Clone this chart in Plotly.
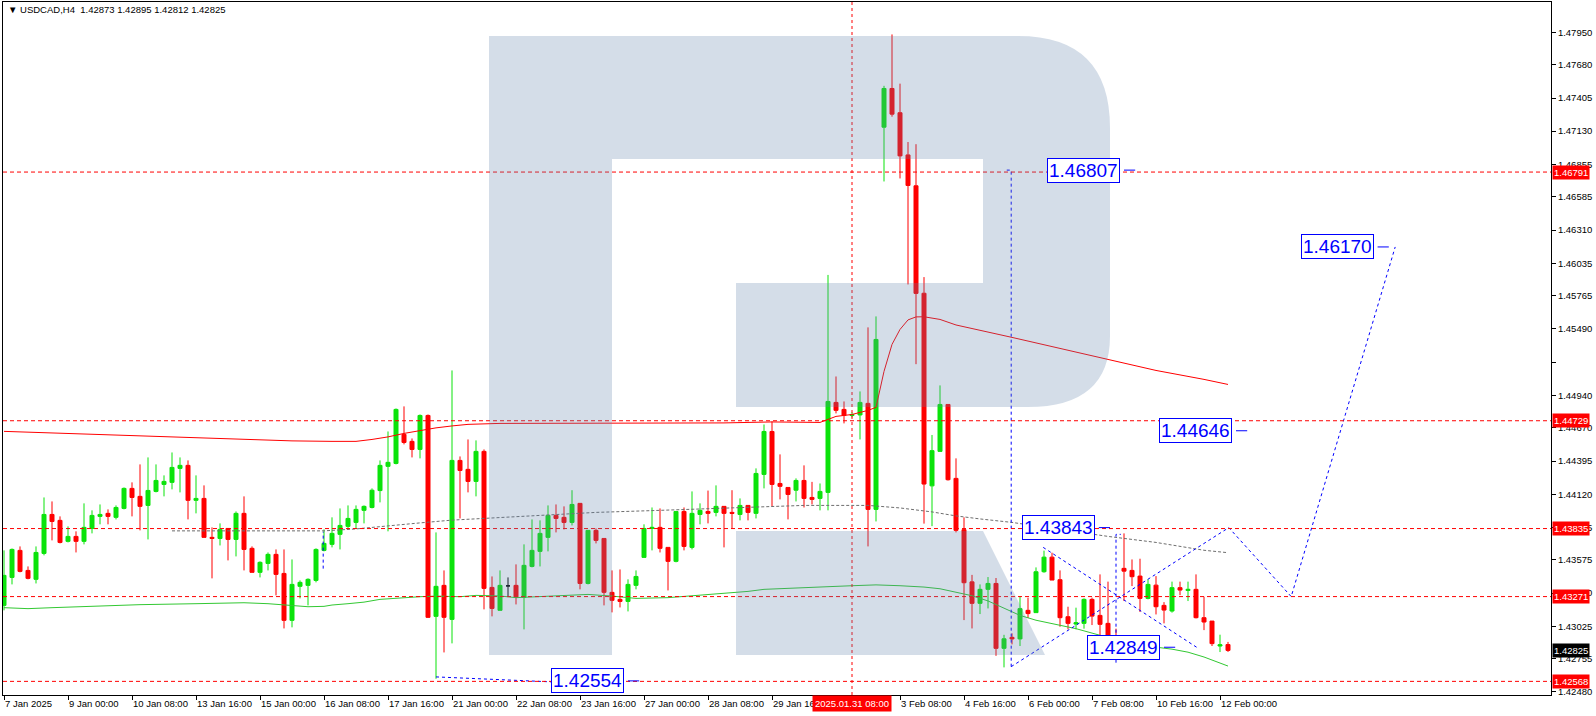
import plotly.graph_objects as go

# ---------------- data ----------------
title_text = "\u25BC USDCAD,H4\u00a0\u00a01.42873 1.42895 1.42812 1.42825"

opens = [
    1.43198, 1.43430, 1.43654, 1.43488, 1.43414, 1.43629, 1.43952, 1.43903, 1.43729, 1.43770,
    1.43729, 1.43836, 1.43936, 1.43961, 1.43928, 1.44002, 1.44168, 1.44102, 1.44027, 1.44143,
    1.44201, 1.44218, 1.44334, 1.44359, 1.44069, 1.44085, 1.43762, 1.43753, 1.43836, 1.43745,
    1.43961, 1.43671, 1.43472, 1.43546, 1.43621, 1.43463, 1.43074, 1.43356, 1.43364, 1.43405,
    1.43654, 1.43704, 1.43787, 1.43853, 1.43886, 1.43986, 1.44010, 1.44150, 1.44351, 1.44375,
    1.44616, 1.44558, 1.44491, 1.44773, 1.43107, 1.43364, 1.43082, 1.44400, 1.44326, 1.44226,
    1.44475, 1.43347, 1.43157, 1.43360, 1.43364, 1.43264, 1.43521, 1.43646, 1.43762, 1.43944,
    1.43928, 1.43886, 1.44044, 1.43380, 1.43820, 1.43753, 1.43306, 1.43248, 1.43231, 1.43364,
    1.43596, 1.43836, 1.43845, 1.43679, 1.43563, 1.43977, 1.43679, 1.43952, 1.43977, 1.43969,
    1.44019, 1.43969, 1.43952, 1.44027, 1.43961, 1.44284, 1.44640, 1.44209, 1.44176, 1.44153,
    1.44234, 1.44093, 1.44085, 1.44135, 1.44881, 1.44823, 1.44773, 1.44777, 1.44873, 1.43994,
    1.47163, 1.47484, 1.47283, 1.46933, 1.46677, 1.45786, 1.44189, 1.44475, 1.44864, 1.44251,
    1.43826, 1.43393, 1.43215, 1.43331, 1.43380, 1.42842, 1.42933, 1.42920, 1.43157, 1.43138,
    1.43477, 1.43598, 1.43411, 1.43104, 1.43043, 1.43049, 1.43248, 1.43115, 1.43049, 1.42933,
    1.43505, 1.43488, 1.43441, 1.43256, 1.43366, 1.43198, 1.43151, 1.43345, 1.43322, 1.43331,
    1.43096, 1.43068, 1.42861, 1.42873]

highs = [
    1.43654, 1.43670, 1.43687, 1.43521, 1.43687, 1.44093, 1.44060, 1.43936, 1.43853, 1.43812,
    1.44044, 1.43986, 1.44035, 1.43994, 1.44027, 1.44176, 1.44218, 1.44367, 1.44425, 1.44367,
    1.44276, 1.44466, 1.44425, 1.44400, 1.44276, 1.44193, 1.43845, 1.43878, 1.43836, 1.43977,
    1.44102, 1.43687, 1.43563, 1.43637, 1.43662, 1.43662, 1.43579, 1.43405, 1.43422, 1.43671,
    1.43828, 1.43928, 1.44002, 1.44027, 1.44027, 1.44027, 1.44168, 1.44400, 1.44640, 1.44831,
    1.44848, 1.44582, 1.44781, 1.44781, 1.43803, 1.43488, 1.45146, 1.44433, 1.44574, 1.44566,
    1.44491, 1.43438, 1.43488, 1.43430, 1.43538, 1.43704, 1.43911, 1.43903, 1.44027, 1.44035,
    1.44019, 1.44153, 1.44044, 1.43820, 1.43836, 1.43753, 1.43488, 1.43496, 1.43414, 1.43488,
    1.43870, 1.44010, 1.44002, 1.43679, 1.43977, 1.44010, 1.44143, 1.44044, 1.44150, 1.44193,
    1.44019, 1.44153, 1.44085, 1.44027, 1.44334, 1.44698, 1.44723, 1.44450, 1.44176, 1.44251,
    1.44359, 1.44222, 1.44209, 1.45938, 1.45096, 1.44889, 1.44798, 1.44972, 1.45503, 1.45594,
    1.47506, 1.47932, 1.47524, 1.47040, 1.47022, 1.45920, 1.44611, 1.45022, 1.44864, 1.44417,
    1.43928, 1.43451, 1.43372, 1.43433, 1.43425, 1.42954, 1.42966, 1.43275, 1.43262, 1.43513,
    1.43652, 1.43635, 1.43488, 1.43187, 1.43179, 1.43256, 1.43262, 1.43455, 1.43395, 1.43005,
    1.43795, 1.43579, 1.43585, 1.43414, 1.43441, 1.43225, 1.43395, 1.43395, 1.43395, 1.43455,
    1.43270, 1.43068, 1.42955, 1.42895]

lows = [
    1.43157, 1.43372, 1.43472, 1.43414, 1.43380, 1.43613, 1.43737, 1.43712, 1.43720, 1.43637,
    1.43704, 1.43795, 1.43870, 1.43870, 1.43911, 1.43994, 1.43936, 1.43820, 1.43745, 1.44135,
    1.44102, 1.44160, 1.44135, 1.43911, 1.43961, 1.43762, 1.43422, 1.43695, 1.43571, 1.43604,
    1.43488, 1.43472, 1.43430, 1.43488, 1.43281, 1.43007, 1.43016, 1.43256, 1.43198, 1.43389,
    1.43646, 1.43679, 1.43662, 1.43828, 1.43836, 1.43878, 1.44002, 1.44052, 1.43812, 1.44367,
    1.44533, 1.44425, 1.44417, 1.43095, 1.42590, 1.42808, 1.42883, 1.43919, 1.44135, 1.44102,
    1.43165, 1.43107, 1.43157, 1.43273, 1.43206, 1.42999, 1.43513, 1.43521, 1.43646, 1.43803,
    1.43828, 1.43861, 1.43331, 1.43372, 1.43712, 1.43198, 1.43140, 1.43181, 1.43148, 1.43331,
    1.43596, 1.43654, 1.43637, 1.43322, 1.43555, 1.43654, 1.43662, 1.43870, 1.43878, 1.43936,
    1.43679, 1.43836, 1.43903, 1.43903, 1.43919, 1.44168, 1.44019, 1.44077, 1.43911, 1.44060,
    1.44010, 1.44035, 1.43986, 1.43986, 1.44790, 1.44707, 1.44757, 1.44574, 1.43687, 1.43894,
    1.46713, 1.47250, 1.46738, 1.45859, 1.45198, 1.43876, 1.43855, 1.44475, 1.44233, 1.43803,
    1.43076, 1.43007, 1.43126, 1.43173, 1.42780, 1.42684, 1.42875, 1.42861, 1.43093, 1.43138,
    1.43469, 1.43408, 1.43021, 1.42999, 1.42999, 1.43005, 1.43035, 1.42861, 1.42861, 1.42750,
    1.43234, 1.43358, 1.43143, 1.43248, 1.43123, 1.43049, 1.43138, 1.43283, 1.43234, 1.43090,
    1.42993, 1.42861, 1.42811, 1.42812]

closes = [
    1.43447, 1.43662, 1.43480, 1.43422, 1.43637, 1.43952, 1.43894, 1.43720, 1.43770, 1.43729,
    1.43845, 1.43944, 1.43952, 1.43936, 1.44010, 1.44168, 1.44093, 1.44019, 1.44151, 1.44234,
    1.44226, 1.44342, 1.44359, 1.44069, 1.44085, 1.43762, 1.43753, 1.43828, 1.43745, 1.43961,
    1.43662, 1.43472, 1.43555, 1.43621, 1.43455, 1.43074, 1.43372, 1.43389, 1.43414, 1.43662,
    1.43712, 1.43795, 1.43861, 1.43919, 1.43994, 1.44019, 1.44153, 1.44359, 1.44384, 1.44823,
    1.44549, 1.44491, 1.44773, 1.43099, 1.43356, 1.43099, 1.44400, 1.44317, 1.44226, 1.44475,
    1.43339, 1.43173, 1.43364, 1.43360, 1.43264, 1.43530, 1.43654, 1.43795, 1.43944, 1.43919,
    1.43886, 1.44035, 1.43380, 1.43820, 1.43737, 1.43306, 1.43240, 1.43231, 1.43372, 1.43438,
    1.43836, 1.43845, 1.43671, 1.43563, 1.43977, 1.43687, 1.43961, 1.43986, 1.43961, 1.44019,
    1.43961, 1.43961, 1.44027, 1.43969, 1.44292, 1.44640, 1.44201, 1.44185, 1.44118, 1.44234,
    1.44085, 1.44077, 1.44143, 1.44889, 1.44815, 1.44773, 1.44781, 1.44881, 1.43994, 1.45403,
    1.47484, 1.47271, 1.46925, 1.46680, 1.45785, 1.44204, 1.44481, 1.44864, 1.44240, 1.43820,
    1.43386, 1.43215, 1.43331, 1.43380, 1.42842, 1.42921, 1.42920, 1.43171, 1.43130, 1.43477,
    1.43598, 1.43408, 1.43096, 1.43049, 1.43055, 1.43248, 1.43109, 1.43041, 1.42930, 1.42833,
    1.43482, 1.43436, 1.43256, 1.43372, 1.43187, 1.43159, 1.43345, 1.43325, 1.43331, 1.43096,
    1.43060, 1.42881, 1.42872, 1.42825]

black_doji = [63]

x_tick_bars = list(range(0, 153, 8))
x_tick_labels = ["7 Jan 2025", "9 Jan 00:00", "10 Jan 08:00", "13 Jan 16:00", "15 Jan 00:00",
                 "16 Jan 08:00", "17 Jan 16:00", "21 Jan 00:00", "22 Jan 08:00", "23 Jan 16:00",
                 "27 Jan 00:00", "28 Jan 08:00", "29 Jan 16:00", "", "3 Feb 08:00",
                 "4 Feb 16:00", "6 Feb 00:00", "7 Feb 08:00", "10 Feb 16:00", "12 Feb 00:00"]
crosshair_bar = 106
crosshair_label = "2025.01.31 08:00"

y_ticks = [1.47950, 1.47680, 1.47405, 1.47130, 1.46855, 1.46585, 1.46310, 1.46035, 1.45765,
           1.45490, 1.45215, 1.44940, 1.44670, 1.44395, 1.44120, 1.43845, 1.43575, 1.43300,
           1.43025, 1.42755, 1.42480]
y_tick_text = ["1.47950", "1.47680", "1.47405", "1.47130", "1.46855", "1.46585", "1.46310",
               "1.46035", "1.45765", "1.45490", "", "1.44940", "1.44670", "1.44395", "1.44120",
               "1.43845", "1.43575", "1.43300", "1.43025", "1.42755", "1.42480"]

level_lines = [1.46791, 1.44729, 1.43835, 1.43271, 1.42568]
current_price = 1.42825

ma_red_bars = [0, 8, 16, 24, 31, 36, 41, 44, 46, 48, 50, 52, 54, 56, 58, 62, 70, 80, 90, 96, 101,
               102, 104, 106, 108, 109, 110, 111, 112, 113, 114, 115, 117, 119, 126, 132, 138,
               144, 150, 153]
ma_red_vals = [1.44641, 1.44624, 1.44607, 1.44591, 1.44574, 1.44562, 1.44558, 1.44558, 1.44574,
               1.44595, 1.44624, 1.44649, 1.44670, 1.44686, 1.44699, 1.44707, 1.44707, 1.44711,
               1.44711, 1.44719, 1.44719, 1.44715, 1.44765, 1.44781, 1.44815, 1.44840, 1.45138,
               1.45362, 1.45486, 1.45565, 1.45590, 1.45591, 1.45569, 1.45523, 1.45420, 1.45329,
               1.45237, 1.45146, 1.45072, 1.45030]

ma_gray_bars = [21, 30, 40, 44, 47, 52, 56, 60, 63, 68, 74, 82, 90, 96, 100, 108, 112, 116, 119,
                122, 126, 132, 138, 144, 150, 153]
ma_gray_vals = [1.43816, 1.43816, 1.43816, 1.43832, 1.43853, 1.43882, 1.43905, 1.43919, 1.43932,
                1.43952, 1.43969, 1.43986, 1.44006, 1.44019, 1.44027, 1.44027, 1.44006, 1.43973,
                1.43940, 1.43915, 1.43886, 1.43828, 1.43770, 1.43720, 1.43655, 1.43635]

ma_green_bars = [0, 3, 6, 9, 13, 17, 24, 30, 33, 36, 38, 40, 41, 43, 45, 47, 49, 52, 54, 57, 59,
                 62, 64, 68, 73, 76, 79, 83, 88, 90, 93, 95, 98, 100, 103, 106, 109, 112, 115,
                 117, 119, 121, 123, 126, 127, 129, 132, 134, 137, 140, 143, 146, 148, 150, 153]
ma_green_vals = [1.43179, 1.43171, 1.43179, 1.43187, 1.43196, 1.43204, 1.43212, 1.43220, 1.43212,
                 1.43198, 1.43187, 1.43190, 1.43201, 1.43212, 1.43225, 1.43248, 1.43258, 1.43270,
                 1.43275, 1.43270, 1.43281, 1.43276, 1.43262, 1.43275, 1.43289, 1.43275, 1.43256,
                 1.43262, 1.43287, 1.43303, 1.43314, 1.43331, 1.43341, 1.43347, 1.43353, 1.43361,
                 1.43368, 1.43361, 1.43350, 1.43336, 1.43306, 1.43278, 1.43235, 1.43150, 1.43115,
                 1.43075, 1.43035, 1.43005, 1.42950, 1.42895, 1.42860, 1.42835, 1.42810, 1.42770,
                 1.42695]

# analyst drawings (bar index, price)
forecast_bars = [125.9, 153.1, 160.9, 173.9]
forecast_prices = [1.42690, 1.43843, 1.43271, 1.46170]
wedge_bars = [129.9, 149.1]
wedge_prices = [1.43679, 1.42850]
vline_a_bars = [125.9, 125.9, 125.3]
vline_a_prices = [1.42690, 1.46807, 1.46807]
vline_b_bars = [139.0, 139.0, 139.6]
vline_b_prices = [1.42723, 1.43787, 1.43787]
stub_bars = [39.9, 39.9]
stub_prices = [1.43503, 1.43808]
low_link_bars = [54, 68.4]
low_link_prices = [1.42605, 1.42564]

label_texts = ["1.46807", "1.46170", "1.44646", "1.43843", "1.42849", "1.42554"]
label_left_bars = [130.4, 162.1, 144.4, 127.25, 135.4, 68.4]
label_center_prices = [1.46807, 1.46170, 1.44646, 1.43843, 1.42851, 1.42572]

# ---------------- style / layout constants ----------------
W, H = 1596, 716
ML, MR, MT, MB = 3, 45, 2, 21
PW, PH = W - ML - MR, H - MT - MB
BULL = "#0be30b"
BEAR = "#ff0000"
BLUE = "#0000ff"
FONT = "Liberation Sans, Arial, sans-serif"
X_RANGE = [-0.125, -0.125 + PW / 8.0]
Y_RANGE = [1.42455, 1.48201]


def paper_x(px):
    return (px - ML) / PW


def paper_y(py):
    return 1 - (py - MT) / PH


def make_path(cmds):
    out = []
    for c in cmds:
        letter = c[0]
        nums = c[1:]
        parts = [letter]
        for k in range(0, len(nums), 2):
            parts.append("%.5f,%.5f" % (paper_x(nums[k]), paper_y(nums[k + 1])))
        out.append(" ".join(parts))
    return " ".join(out)


fig = go.Figure()

main_idx = [i for i in range(len(opens)) if i not in black_doji]
fig.add_trace(go.Candlestick(
    x=main_idx,
    open=[opens[i] for i in main_idx], high=[highs[i] for i in main_idx],
    low=[lows[i] for i in main_idx], close=[closes[i] for i in main_idx],
    increasing=dict(line=dict(color=BULL, width=1), fillcolor=BULL),
    decreasing=dict(line=dict(color=BEAR, width=1), fillcolor=BEAR),
    whiskerwidth=0, hoverinfo="skip", showlegend=False))
fig.add_trace(go.Candlestick(
    x=black_doji,
    open=[opens[i] for i in black_doji], high=[highs[i] for i in black_doji],
    low=[lows[i] for i in black_doji], close=[closes[i] for i in black_doji],
    increasing=dict(line=dict(color="black", width=1), fillcolor="black"),
    decreasing=dict(line=dict(color="black", width=1), fillcolor="black"),
    whiskerwidth=0, hoverinfo="skip", showlegend=False))

fig.add_trace(go.Scatter(x=ma_red_bars, y=ma_red_vals, mode="lines",
                         line=dict(color="#ff0000", width=1), hoverinfo="skip", showlegend=False))
fig.add_trace(go.Scatter(x=ma_gray_bars, y=ma_gray_vals, mode="lines",
                         line=dict(color="#6e6e6e", width=1, dash="3px,2px"),
                         hoverinfo="skip", showlegend=False))
fig.add_trace(go.Scatter(x=ma_green_bars, y=ma_green_vals, mode="lines",
                         line=dict(color="#32c832", width=1), hoverinfo="skip", showlegend=False))

for bx, by in [(forecast_bars, forecast_prices), (wedge_bars, wedge_prices),
               (vline_a_bars, vline_a_prices), (vline_b_bars, vline_b_prices),
               (stub_bars, stub_prices), (low_link_bars, low_link_prices)]:
    fig.add_trace(go.Scatter(x=bx, y=by, mode="lines",
                             line=dict(color=BLUE, width=1, dash="3px,3px"),
                             hoverinfo="skip", showlegend=False))

shapes = []
for lv in level_lines:
    shapes.append(dict(type="line", xref="paper", yref="y", x0=0, x1=1, y0=lv, y1=lv,
                       line=dict(color="#ff0000", width=1, dash="4px,3px"), layer="above"))
shapes.append(dict(type="line", xref="x", yref="paper", x0=crosshair_bar, x1=crosshair_bar,
                   y0=0, y1=1, line=dict(color="#ff0000", width=1, dash="3px,3px"), layer="above"))
# label tails
for txt, lb, lp in zip(label_texts, label_left_bars, label_center_prices):
    shapes.append(dict(type="line", xref="x", yref="y", x0=lb + 9.6, x1=lb + 11.0, y0=lp, y1=lp,
                       line=dict(color=BLUE, width=1), layer="above"))

# watermark logo
r_body = [("M", 489, 36), ("L", 1018, 36), ("Q", 1110, 36, 1110, 128), ("L", 1110, 336),
          ("Q", 1110, 407, 1028, 407), ("L", 736, 407), ("L", 736, 283), ("L", 983, 283),
          ("L", 983, 159), ("L", 612, 159), ("L", 612, 655), ("L", 489, 655), ("Z",)]
r_leg = [("M", 736, 531), ("L", 983, 531), ("L", 1045, 655), ("L", 736, 655), ("Z",)]
for part in (r_body, r_leg):
    shapes.append(dict(type="path", xref="paper", yref="paper", path=make_path(part),
                       fillcolor="rgb(96,130,170)", opacity=0.27, line=dict(width=0),
                       layer="above"))

annotations = []
annotations.append(dict(text=title_text, xref="paper", yref="paper", x=paper_x(6), y=paper_y(10),
                        xanchor="left", yanchor="middle", showarrow=False,
                        font=dict(family=FONT, size=9.5, color="black")))
annotations.append(dict(text=crosshair_label, xref="x", yref="paper", x=crosshair_bar,
                        y=paper_y(703), xanchor="center", yanchor="middle", showarrow=False,
                        bgcolor="#ff0000", borderpad=2,
                        font=dict(family=FONT, size=9.5, color="white")))
for lv in level_lines:
    annotations.append(dict(text="%.5f" % lv, xref="paper", yref="y", x=1, y=lv, xshift=1,
                            xanchor="left", yanchor="middle", showarrow=False,
                            bgcolor="#ff0000", borderpad=1,
                            font=dict(family=FONT, size=9.5, color="white")))
annotations.append(dict(text="%.5f" % current_price, xref="paper", yref="y", x=1,
                        y=current_price, xshift=1, xanchor="left", yanchor="middle",
                        showarrow=False, bgcolor="black", borderpad=1,
                        font=dict(family=FONT, size=9.5, color="white")))
for txt, lb, lp in zip(label_texts, label_left_bars, label_center_prices):
    annotations.append(dict(text=txt, xref="x", yref="y", x=lb, y=lp, xanchor="left",
                            yanchor="middle", showarrow=False, bgcolor="white",
                            bordercolor=BLUE, borderwidth=1, borderpad=1,
                            font=dict(family=FONT, size=19, color=BLUE)))

fig.update_layout(
    width=W, height=H, margin=dict(l=ML, r=MR, t=MT, b=MB, autoexpand=False),
    paper_bgcolor="white", plot_bgcolor="white",
    showlegend=False, boxgap=0.5, boxgroupgap=0,
    shapes=shapes, annotations=annotations,
    font=dict(family=FONT, size=9.5, color="black"),
    xaxis=dict(range=X_RANGE, tickvals=x_tick_bars, ticktext=x_tick_labels,
               ticks="outside", ticklen=4, tickcolor="black", showline=True, linecolor="black",
               linewidth=1, mirror=True, showgrid=False, zeroline=False, automargin=False,
               tickangle=0, rangeslider=dict(visible=False), ticklabelposition="outside right",
               tickfont=dict(family=FONT, size=9.5, color="black")),
    yaxis=dict(range=Y_RANGE, side="right", tickvals=y_ticks, ticktext=y_tick_text,
               ticks="outside", ticklen=4, tickcolor="black", showline=True, linecolor="black",
               linewidth=1, mirror=True, showgrid=False, zeroline=False, automargin=False,
               tickfont=dict(family=FONT, size=9.5, color="black")),
)

fig.write_html("out.html", config={"displayModeBar": False},
               post_script="document.body.style.margin='0';document.body.style.overflow='hidden';")
